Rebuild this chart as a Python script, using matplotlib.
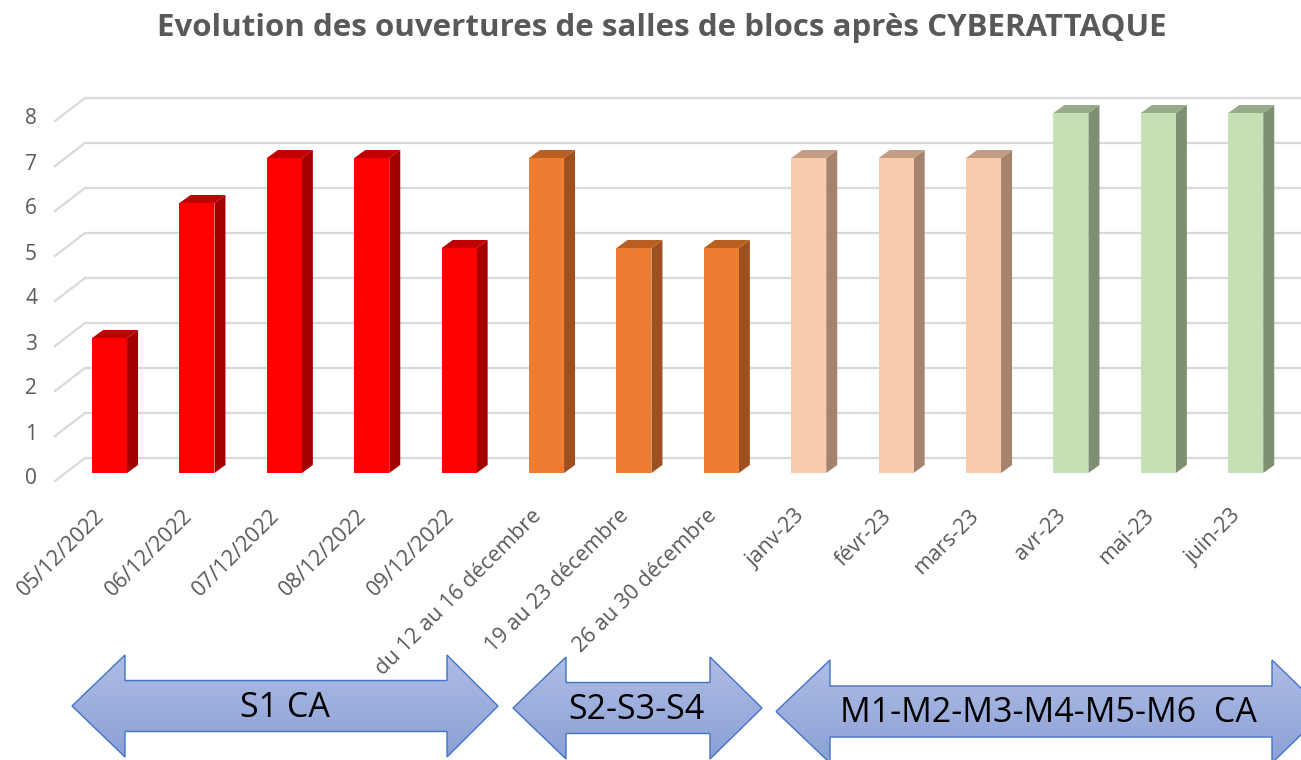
import matplotlib
matplotlib.use('Agg')
import matplotlib.pyplot as plt
import numpy as np
from matplotlib.patches import Polygon
from matplotlib.colors import LinearSegmentedColormap

# ---------------- data ----------------
categories = ["05/12/2022", "06/12/2022", "07/12/2022", "08/12/2022", "09/12/2022",
              "du 12 au 16 décembre", "19 au 23 décembre", "26 au 30 décembre",
              "janv-23", "févr-23", "mars-23", "avr-23", "mai-23", "juin-23"]
values = [3, 6, 7, 7, 5, 7, 5, 5, 7, 7, 7, 8, 8, 8]
color_group = [0, 0, 0, 0, 0, 1, 1, 1, 2, 2, 2, 3, 3, 3]
yticks = [0, 1, 2, 3, 4, 5, 6, 7, 8]
title = "Evolution des ouvertures de salles de blocs après CYBERATTAQUE"
period_labels = ["S1 CA", "S2-S3-S4", "M1-M2-M3-M4-M5-M6  CA"]

front_colors = ['#FF0000', '#ED7D31', '#F8CBAD', '#C5E0B4']
side_colors = ['#A50000', '#9E5020', '#A5836D', '#7F8F72']
top_colors = ['#C00000', '#B95F22', '#C39C86', '#97AB8B']

FONT = 'Open Sans'
TXT = '#595959'

# ---------------- layout ----------------
W, H = 1301, 760
fig = plt.figure(figsize=(W / 100, H / 100), dpi=100)
fig.patch.set_facecolor('white')

X0, X1 = -0.51, 13.5
Y0, Y1 = 0, 8.5
PPX, PPY = 87.4, 45.0          # pixels per data unit
ax_left, ax_base = 65, 473     # pixel position of plot origin (from top)
ax = fig.add_axes([ax_left / W, (H - ax_base) / H,
                   (X1 - X0) * PPX / W, (Y1 - Y0) * PPY / H])
ax.set_xlim(X0, X1)
ax.set_ylim(Y0, Y1)
ax.axis('off')

# depth offsets (pixels -> data)
wall_dx, wall_dy = 20 / PPX, 15 / PPY
front_dx, front_dy = -10 / PPX, -8 / PPY
bar_dx, bar_dy = 11 / PPX, 8 / PPY
bw = 0.4

# back-wall gridlines and floor diagonals
for v in yticks:
    ax.plot([X0 + wall_dx, X1 + 1], [v + wall_dy] * 2, color='#D9D9D9', lw=1.6,
            clip_on=False, zorder=1, solid_capstyle='butt')
    ax.plot([X0 + front_dx, X0 + wall_dx], [v + front_dy, v + wall_dy],
            color='#D9D9D9', lw=1.6, clip_on=False, zorder=1)
    ax.text(X0 - 28 / PPX, v - 6 / PPY, str(v), ha='right', va='center',
            fontsize=15, color=TXT, family=FONT, clip_on=False)

# bars
x = np.arange(len(values))
ax.bar(x, values, width=bw, color=[front_colors[g] for g in color_group],
       zorder=3, clip_on=False)
for i, (v, g) in enumerate(zip(values, color_group)):
    side = Polygon([(i + bw / 2, 0), (i + bw / 2 + bar_dx, bar_dy),
                    (i + bw / 2 + bar_dx, v + bar_dy), (i + bw / 2, v)],
                   closed=True, facecolor=side_colors[g], edgecolor='none',
                   zorder=2.9, clip_on=False)
    top = Polygon([(i - bw / 2, v), (i + bw / 2, v),
                   (i + bw / 2 + bar_dx, v + bar_dy), (i - bw / 2 + bar_dx, v + bar_dy)],
                  closed=True, facecolor=top_colors[g], edgecolor='none',
                  zorder=2.9, clip_on=False)
    ax.add_patch(side)
    ax.add_patch(top)

# category labels
for i, lab in enumerate(categories):
    ax.text(i - 8 / PPX, -40 / PPY, lab, rotation=45, rotation_mode='anchor',
            ha='right', va='center', fontsize=15.5, color=TXT, family=FONT,
            clip_on=False)

# title
fig.text(662 / W, 1 - 28 / H, title, ha='center', va='center', fontsize=22.5,
         fontweight='bold', color=TXT, family=FONT)

# ---------------- period arrows ----------------
ov = fig.add_axes([0, 0, 1, 1], zorder=5)
ov.set_xlim(0, W)
ov.set_ylim(H, 0)
ov.axis('off')
ov.patch.set_alpha(0)

cmap = LinearSegmentedColormap.from_list('blu', ['#AEBDE5', '#8BA0D6'])
grad = np.linspace(0, 1, 200).reshape(-1, 1)

# (left tip, left head base, right head base, right tip, y centre, shaft half, head half)
arrows = [(72, 125, 447, 498, 706, 25.5, 51),
          (513, 566, 710, 762, 708, 25.5, 51),
          (776, 830, 1272, 1325, 711.5, 25.5, 51.5)]
text_x = [285, 636, 1048]
for (a, b, c, d, yc, s, hh), lab, tx in zip(arrows, period_labels, text_x):
    pts = [(a, yc), (b, yc - hh), (b, yc - s), (c, yc - s), (c, yc - hh), (d, yc),
           (c, yc + hh), (c, yc + s), (b, yc + s), (b, yc + hh)]
    poly = Polygon(pts, closed=True, facecolor='none', edgecolor='#4472C4', lw=1.0,
                   zorder=3)
    ov.add_patch(poly)
    im = ov.imshow(grad, extent=(a, d, yc + hh, yc - hh), cmap=cmap, aspect='auto',
                   origin='upper', zorder=2, interpolation='bilinear')
    im.set_clip_path(poly)
    ov.text(tx, yc + 2, lab, ha='center', va='center', fontsize=24.5, color='black',
            family=FONT, zorder=4)
ov.set_xlim(0, W)
ov.set_ylim(H, 0)

fig.savefig('out.png', dpi=100)
